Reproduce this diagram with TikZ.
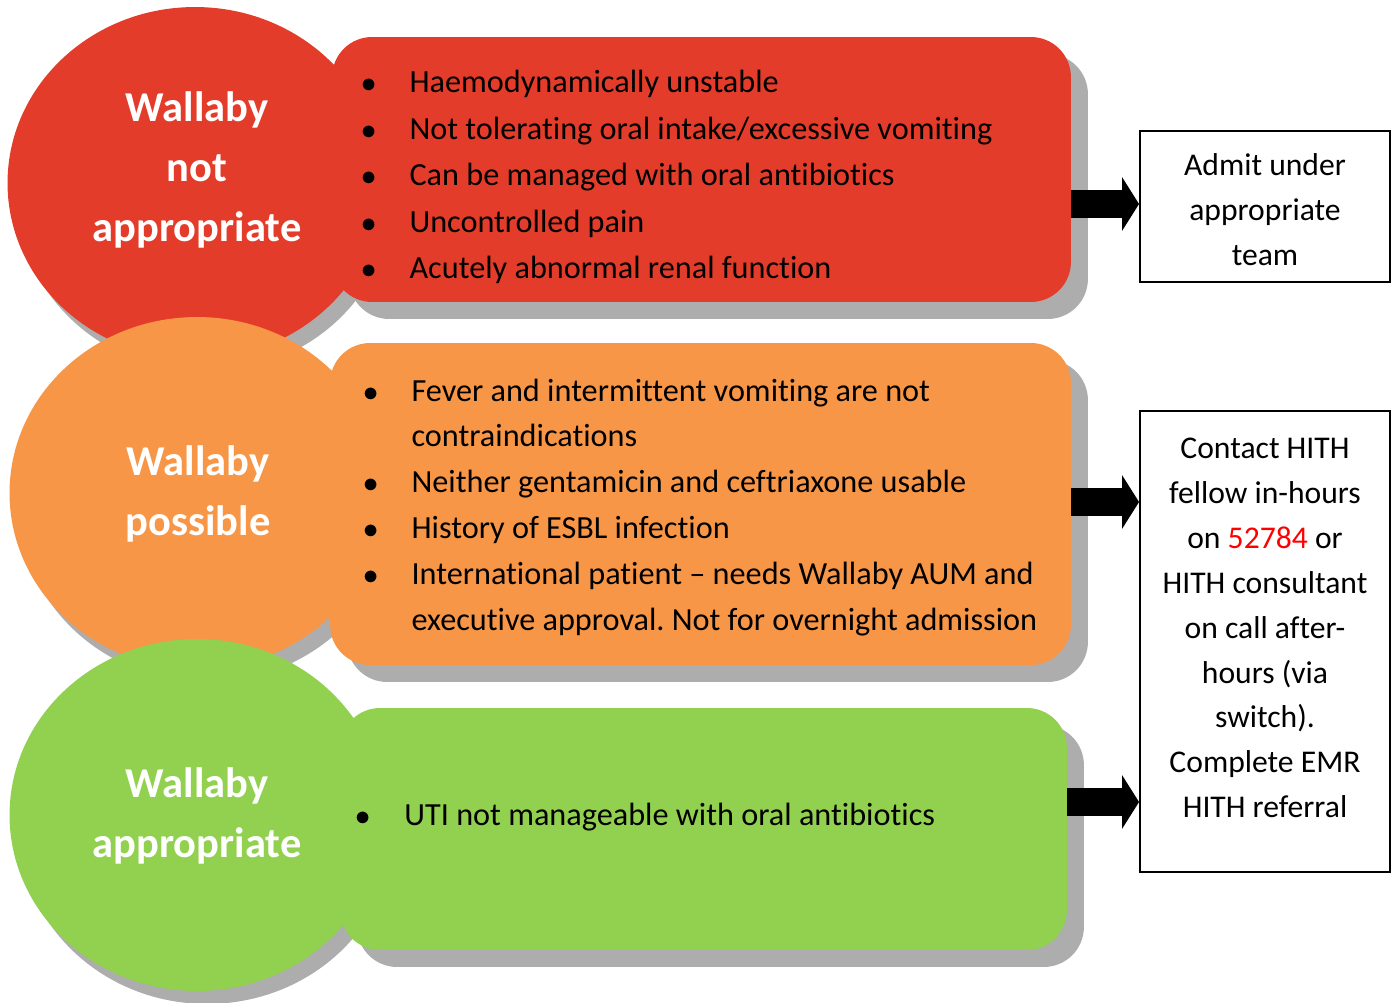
\documentclass[tikz,border=0pt]{standalone}
\usepackage{fontspec}
\setmainfont[Ligatures=NoCommon]{Carlito}
\usetikzlibrary{arrows.meta,shadows,shapes.geometric}
\definecolor{wred}{RGB}{228,60,42}
\definecolor{worange}{RGB}{247,150,70}
\definecolor{wgreen}{RGB}{146,208,80}
\definecolor{shgray}{RGB}{173,173,173}
\definecolor{numred}{RGB}{255,0,0}
\frenchspacing

\begin{document}
\begin{tikzpicture}
  [x=0.02cm, y=-0.02cm,
   blob/.style={ellipse, minimum width=7.5cm, minimum height=7.04cm, inner sep=0,
     drop shadow={shadow xshift=0.2cm, shadow yshift=-0.26cm, fill=shgray, opacity=1}},
   card/.style={rectangle, rounded corners=0.8cm, inner sep=0,
     drop shadow={shadow xshift=0.34cm, shadow yshift=-0.34cm, fill=shgray, opacity=1}},
   head/.style={text=white, align=center, font=\bfseries\fontsize{24.2}{34.1}\selectfont},
   items/.style={anchor=west, inner sep=0, font=\fontsize{18.35}{26.5}\selectfont},
   note/.style={draw, line width=1.1pt, inner sep=0, font=\fontsize{18}{25.6}\selectfont},
   go/.style={line width=15.4pt, -{Triangle[width=30.2pt, length=9.7pt]}}]
  \useasboundingbox (0,0) rectangle (1394,1003);

  % not appropriate
  \node[blob, fill=wred] (c1) at (195,183) {};
  \node[card, fill=wred, minimum width=14.78cm, minimum height=5.3cm] (r1) at (701.5,169.5) {};
  \node[head] (t1) at (197,170) {Wallaby\\not\\appropriate};
  \node[items] (l1) at (361,176.5) {\begin{tabular}{@{}c@{\hspace{18.8pt}}l@{}}
    $\bullet$ & Haemodynamically unstable\\
    $\bullet$ & Not tolerating oral intake/excessive vomiting\\
    $\bullet$ & Can be managed with oral antibiotics\\
    $\bullet$ & Uncontrolled pain\\
    $\bullet$ & Acutely abnormal renal function
  \end{tabular}};

  % possible
  \node[blob, fill=worange] (c2) at (197,493) {};
  \node[card, fill=worange, minimum width=14.82cm, minimum height=6.44cm] (r2) at (700.5,504) {};
  \node[head] (t2) at (198,494) {Wallaby\\possible};
  \node[items, font=\fontsize{18.35}{26.06}\selectfont] (l2) at (363,506.5) {\begin{tabular}{@{}c@{\hspace{18.8pt}}l@{}}
    $\bullet$ & Fever and intermittent vomiting are not\\
     & contraindications\\
    $\bullet$ & Neither gentamicin and ceftriaxone usable\\
    $\bullet$ & History of ESBL infection\\
    $\bullet$ & International patient -- needs Wallaby AUM and\\
     & executive approval. Not for overnight admission
  \end{tabular}};

  % appropriate
  \node[blob, fill=wgreen] (c3) at (197,815) {};
  \node[card, fill=wgreen, minimum width=14.54cm, minimum height=4.84cm] (r3) at (703.5,829) {};
  \node[head] (t3) at (197,816) {Wallaby\\appropriate};
  \node[items] (l3) at (355,816) {\begin{tabular}{@{}c@{\hspace{19.3pt}}l@{}}
    $\bullet$ & UTI not manageable with oral antibiotics
  \end{tabular}};

  % outcomes
  \node[note, minimum width=5cm, minimum height=3.02cm, align=center] (b1) at (1265,206.5)
    {\rule{0pt}{16pt}Admit under\\appropriate\\team};
  \node[note] (b2) at (1265,641.5) {\begin{minipage}[c][9.22cm][t]{5cm}\centering\noindent
    \rule{0pt}{26.8pt}Contact HITH\\fellow in-hours\\on \textcolor{numred}{52784} or\\HITH consultant\\on call after-\\hours (via\\switch).\\Complete EMR\\HITH referral\end{minipage}};

  \coordinate (a1) at (0,204);
  \coordinate (a2) at (0,502);
  \coordinate (a3) at (0,802);
  \draw[go] (r1.east |- a1) -- (b1.west |- a1);
  \draw[go] (r2.east |- a2) -- (b2.west |- a2);
  \draw[go] (r3.east |- a3) -- (b2.west |- a3);
\end{tikzpicture}
\end{document}
